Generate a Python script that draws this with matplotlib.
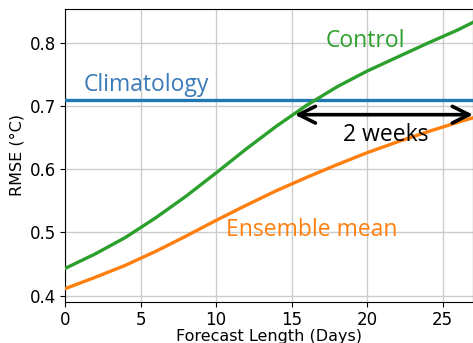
import matplotlib
matplotlib.use("Agg")
import matplotlib.pyplot as plt

days = [0, 2, 4, 6, 8, 10, 12, 14, 16, 18, 20, 22, 24, 26, 27]
control = [0.443, 0.466, 0.492, 0.523, 0.557, 0.594, 0.632, 0.668, 0.701, 0.730, 0.755, 0.777, 0.799, 0.820, 0.832]
ensemble = [0.411, 0.429, 0.448, 0.470, 0.494, 0.519, 0.543, 0.566, 0.587, 0.607, 0.626, 0.643, 0.659, 0.674, 0.681]
climatology = 0.709
arrow_start, arrow_end, arrow_y = 15.2, 27.0, 0.686

fig = plt.figure(figsize=(4.73, 3.43), dpi=100)
ax = fig.add_axes([65/473, 1-302/343, 408/473, 293/343])

ax.axhline(climatology, color="#1f77b4", lw=2.4, zorder=3)
ax.plot(days, control, color="#2ca02c", lw=2.4, zorder=3)
ax.plot(days, ensemble, color="#ff7f0e", lw=2.4, zorder=3)

ax.annotate("", xy=(arrow_start, arrow_y), xytext=(arrow_end, arrow_y),
            arrowprops=dict(arrowstyle="<->", color="black", lw=2.6,
                            mutation_scale=30, shrinkA=0, shrinkB=0),
            zorder=4)

tf = "Open Sans"
ax.text(21.2, 0.654, "2 weeks", ha="center", va="center", fontsize=16.5, color="black", family=tf)
ax.text(19.9, 0.802, "Control", ha="center", va="center", fontsize=16.5, color="#2ca02c", family=tf)
ax.text(5.4, 0.733, "Climatology", ha="center", va="center", fontsize=16.5, color="#3a7ab8", family=tf)
ax.text(16.3, 0.504, "Ensemble mean", ha="center", va="center", fontsize=16.5, color="#ff7f0e", family=tf)

ax.set_xlim(0, 27)
ax.set_ylim(0.39, 0.853)
ax.set_xticks([0, 5, 10, 15, 20, 25])
ax.set_yticks([0.4, 0.5, 0.6, 0.7, 0.8])
ax.grid(True, color="#cccccc", lw=1.0)
ax.set_axisbelow(True)
ax.tick_params(labelsize=12, pad=3)
ax.set_xlabel("Forecast Length (Days)", fontsize=11.5, labelpad=0)
ax.set_ylabel("RMSE (°C)", fontsize=11.5, labelpad=4)

fig.savefig("out.png", dpi=100)
